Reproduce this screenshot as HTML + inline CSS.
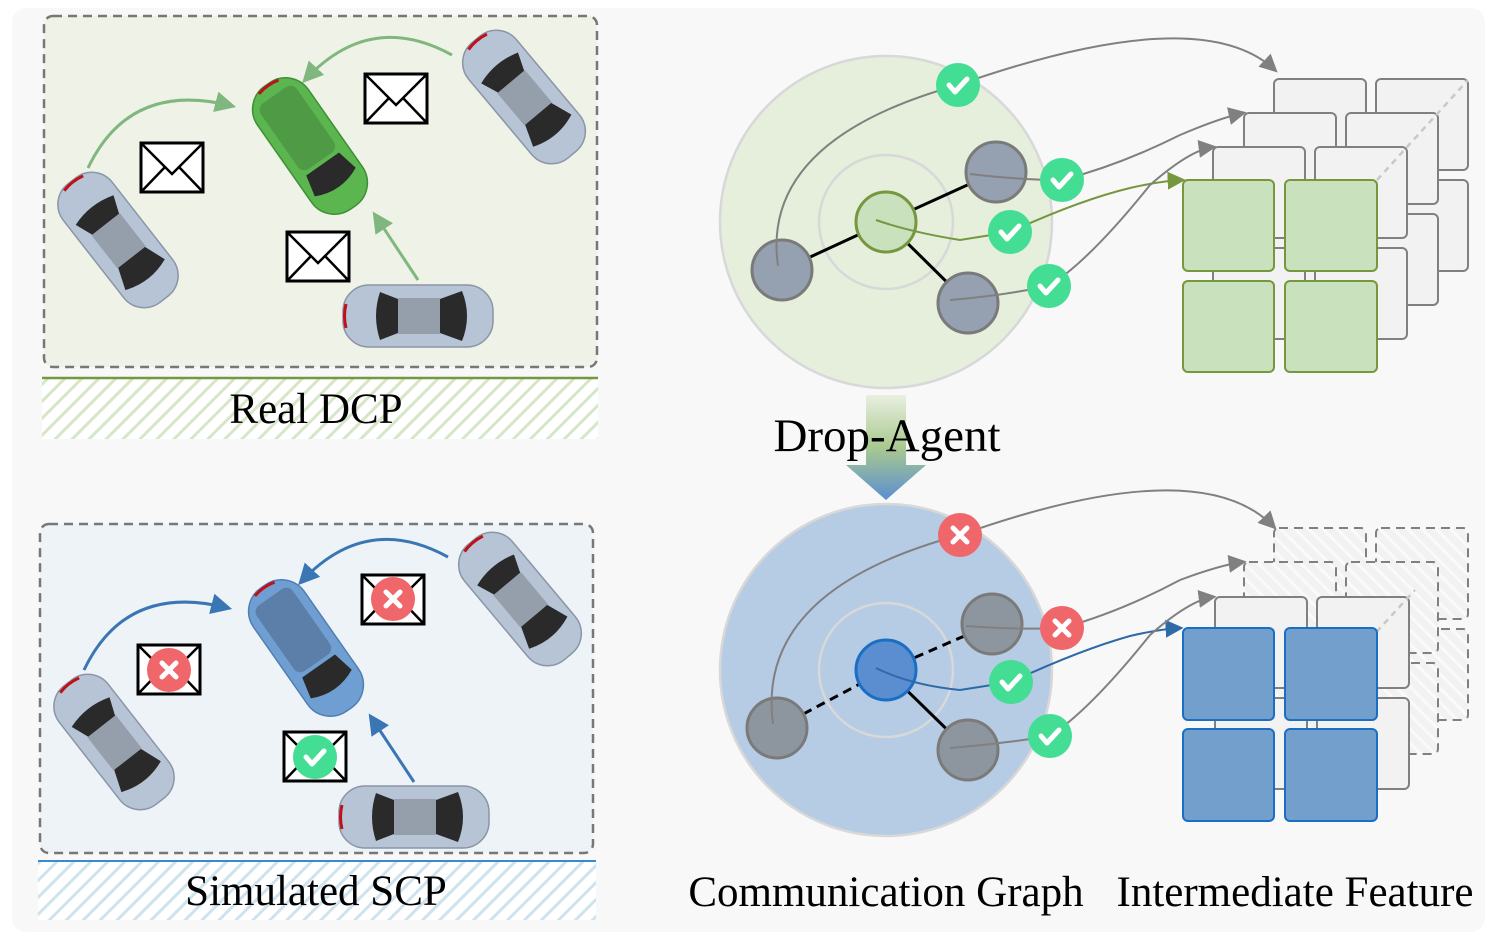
<!DOCTYPE html>
<html><head><meta charset="utf-8"><style>
html,body{margin:0;padding:0;background:#fff}
svg{display:block}
text{font-family:"Liberation Serif",serif;fill:#000}
</style></head><body>
<svg width="1494" height="941" viewBox="0 0 1494 941" xmlns="http://www.w3.org/2000/svg">
<defs>
<pattern id="hg" width="12" height="12" patternUnits="userSpaceOnUse" patternTransform="rotate(45)">
<rect width="12" height="12" fill="#fff"/><rect width="3" height="12" fill="#d6e6c8"/></pattern>
<pattern id="hb" width="12" height="12" patternUnits="userSpaceOnUse" patternTransform="rotate(45)">
<rect width="12" height="12" fill="#fff"/><rect width="3" height="12" fill="#cfe3ee"/></pattern>
<pattern id="hw" width="10" height="10" patternUnits="userSpaceOnUse" patternTransform="rotate(-45)">
<rect width="10" height="10" fill="#f2f2f2"/><rect width="3" height="10" fill="#fafafa"/></pattern>
<linearGradient id="ag" x1="0" y1="0" x2="0" y2="1"><stop offset="0" stop-color="#e8efe0"/><stop offset="0.5" stop-color="#a9c98f"/><stop offset="1" stop-color="#5b8ed0"/></linearGradient>
<marker id="mg" viewBox="0 0 10 10" refX="8" refY="5" markerWidth="7" markerHeight="7" orient="auto"><path d="M0,0L10,5L0,10z" fill="#7fb77e"/></marker>
<marker id="mb" viewBox="0 0 10 10" refX="8" refY="5" markerWidth="7" markerHeight="7" orient="auto"><path d="M0,0L10,5L0,10z" fill="#3a76b4"/></marker>
<marker id="mgr" viewBox="0 0 10 10" refX="8" refY="5" markerWidth="9" markerHeight="9" orient="auto"><path d="M0,0L10,5L0,10z" fill="#808080"/></marker>
<marker id="mol" viewBox="0 0 10 10" refX="8" refY="5" markerWidth="9" markerHeight="9" orient="auto"><path d="M0,0L10,5L0,10z" fill="#76973e"/></marker>
<marker id="mbl" viewBox="0 0 10 10" refX="8" refY="5" markerWidth="9" markerHeight="9" orient="auto"><path d="M0,0L10,5L0,10z" fill="#2f6aa8"/></marker>
<g id="car">
<rect x="-75" y="-31" width="150" height="62" rx="26" fill="#b7c4d6" stroke="#8a95a5" stroke-width="1.5"/>
<path d="M-38,-24 L-20,-17 L-20,17 L-38,24 Q-46,0 -38,-24z" fill="#2a2a2a"/>
<path d="M22,-17 L44,-25 Q54,0 44,25 L22,17z" fill="#2a2a2a"/>
<rect x="-20" y="-18" width="42" height="36" fill="#959fab"/>
<path d="M-72,-12 Q-75,0 -72,12" stroke="#c0101a" stroke-width="3" fill="none"/>
</g>
<g id="gcar">
<rect x="-75" y="-31" width="150" height="62" rx="28" fill="#5bb64f" stroke="#3f8f35" stroke-width="1.5"/>
<rect x="-62" y="-22" width="80" height="44" rx="8" fill="#4e9a45"/>
<path d="M22,-20 L44,-25 Q56,0 44,25 L22,20z" fill="#2a2a2a"/>
<path d="M-72,-12 Q-75,0 -72,12" stroke="#c0101a" stroke-width="3" fill="none"/>
</g>
<g id="bcar">
<rect x="-75" y="-31" width="150" height="62" rx="28" fill="#6f9ed2" stroke="#4f7fb4" stroke-width="1.5"/>
<rect x="-62" y="-22" width="80" height="44" rx="8" fill="#5b7fa8"/>
<path d="M22,-20 L44,-25 Q56,0 44,25 L22,20z" fill="#2a2a2a"/>
<path d="M-72,-12 Q-75,0 -72,12" stroke="#c0101a" stroke-width="3" fill="none"/>
</g>
<g id="env"><rect x="0" y="0" width="62" height="49" fill="#fff" stroke="#000" stroke-width="3"/><path d="M0,0L31,31L62,0M0,49L24,24M62,49L38,24" stroke="#000" stroke-width="2.5" fill="none"/></g>
<g id="ok"><circle r="22" fill="#43dd94"/><path d="M-9,0L-3,7L9,-6" stroke="#fff" stroke-width="5" fill="none" stroke-linecap="round" stroke-linejoin="round"/></g>
<g id="no"><circle r="22" fill="#f0676b"/><path d="M-7,-7L7,7M7,-7L-7,7" stroke="#fff" stroke-width="5" stroke-linecap="round"/></g>
</defs>

<rect x="12" y="8" width="1473" height="924" rx="14" fill="#f8f8f8"/>

<rect x="44" y="16" width="553" height="351" rx="9" fill="#eef2e7" stroke="#777" stroke-width="2.5" stroke-dasharray="9,6"/>
<rect x="42" y="379" width="556" height="60" fill="url(#hg)"/>
<line x1="42" y1="378" x2="598" y2="378" stroke="#76973e" stroke-width="2.5"/>
<text x="316" y="423" font-size="43" text-anchor="middle">Real DCP</text>
<path d="M88,168 Q130,80 232,106" stroke="#7fb77e" stroke-width="3" fill="none" marker-end="url(#mg)"/>
<path d="M452,55 Q370,10 305,80" stroke="#7fb77e" stroke-width="3" fill="none" marker-end="url(#mg)"/>
<path d="M418,280 L375,215" stroke="#7fb77e" stroke-width="3" fill="none" marker-end="url(#mg)"/>
<use href="#car" transform="translate(118,240) rotate(52)"/>
<use href="#gcar" transform="translate(310,146) rotate(55)"/>
<use href="#car" transform="translate(524,97) rotate(50)"/>
<use href="#car" transform="translate(418,316)"/>
<use href="#env" x="141" y="143"/>
<use href="#env" x="365" y="74"/>
<use href="#env" x="287" y="232"/>

<rect x="40" y="524" width="553" height="329" rx="9" fill="#eef3f8" stroke="#777" stroke-width="2.5" stroke-dasharray="9,6"/>
<rect x="38" y="862" width="558" height="58" fill="url(#hb)"/>
<line x1="38" y1="861" x2="596" y2="861" stroke="#3a8ad0" stroke-width="2"/>
<text x="316" y="905" font-size="43" text-anchor="middle">Simulated SCP</text>
<path d="M84,670 Q126,582 228,608" stroke="#3a76b4" stroke-width="3" fill="none" marker-end="url(#mb)"/>
<path d="M448,557 Q366,512 301,582" stroke="#3a76b4" stroke-width="3" fill="none" marker-end="url(#mb)"/>
<path d="M414,782 L371,717" stroke="#3a76b4" stroke-width="3" fill="none" marker-end="url(#mb)"/>
<use href="#car" transform="translate(114,742) rotate(52)"/>
<use href="#bcar" transform="translate(306,648) rotate(55)"/>
<use href="#car" transform="translate(520,599) rotate(50)"/>
<use href="#car" transform="translate(414,817)"/>
<use href="#env" x="138" y="645"/><use href="#no" transform="translate(169,670)"/>
<use href="#env" x="362" y="575"/><use href="#no" transform="translate(393,599)"/>
<use href="#env" x="284" y="732"/><use href="#ok" transform="translate(315,757)"/>

<path d="M866,395 L906,395 L906,465 L926,465 L886,500 L846,465 L866,465z" fill="url(#ag)"/>
<text x="887" y="451" font-size="47" text-anchor="middle">Drop-Agent</text>

<circle cx="886" cy="222" r="166" fill="#e5efdc" stroke="#d8d8d8" stroke-width="2.5"/>
<circle cx="886" cy="222" r="67" fill="none" stroke="#d8d8d8" stroke-width="2.5"/>
<line x1="782" y1="270" x2="886" y2="222" stroke="#000" stroke-width="3"/>
<line x1="996" y1="172" x2="886" y2="222" stroke="#000" stroke-width="3"/>
<line x1="968" y1="303" x2="886" y2="222" stroke="#000" stroke-width="3"/>
<circle cx="782" cy="270" r="30" fill="#95a1b0" stroke="#7a7a7a" stroke-width="3"/>
<circle cx="996" cy="172" r="30" fill="#95a1b0" stroke="#7a7a7a" stroke-width="3"/>
<circle cx="968" cy="303" r="30" fill="#95a1b0" stroke="#7a7a7a" stroke-width="3"/>
<circle cx="886" cy="222" r="30" fill="#c9e1bd" stroke="#76973e" stroke-width="3"/>
<path d="M778,266 Q760,140 958,85 Q1200,0 1275,70" stroke="#808080" stroke-width="2" fill="none" marker-end="url(#mgr)"/>
<path d="M970,174 Q1020,180 1062,180 Q1120,165 1180,135 Q1220,118 1243,113" stroke="#808080" stroke-width="2" fill="none" marker-end="url(#mgr)"/>
<path d="M876,220 Q910,232 960,240 L1010,232 Q1080,200 1130,188 Q1160,181 1182,180" stroke="#76973e" stroke-width="2" fill="none" marker-end="url(#mol)"/>
<path d="M950,300 Q1000,296 1049,286 Q1090,260 1150,185 Q1190,150 1213,147" stroke="#808080" stroke-width="2" fill="none" marker-end="url(#mgr)"/>
<use href="#ok" transform="translate(958,85)"/>
<use href="#ok" transform="translate(1062,180)"/>
<use href="#ok" transform="translate(1010,232)"/>
<use href="#ok" transform="translate(1049,286)"/>

<g stroke="#808080" stroke-width="2" fill="#f2f2f2">
<rect x="1274" y="79" width="92" height="91" rx="5"/><rect x="1376" y="79" width="92" height="91" rx="5"/>
<rect x="1274" y="180" width="92" height="91" rx="5"/><rect x="1376" y="180" width="92" height="91" rx="5"/>
<rect x="1244" y="113" width="92" height="91" rx="5"/><rect x="1346" y="113" width="92" height="91" rx="5"/>
<rect x="1244" y="214" width="92" height="91" rx="5"/><rect x="1346" y="214" width="92" height="91" rx="5"/>
<rect x="1213" y="147" width="92" height="91" rx="5"/><rect x="1315" y="147" width="92" height="91" rx="5"/>
<rect x="1213" y="248" width="92" height="91" rx="5"/><rect x="1315" y="248" width="92" height="91" rx="5"/>
</g>
<line x1="1377" y1="180" x2="1468" y2="80" stroke="#c8c8c8" stroke-width="2.5" stroke-dasharray="6,5"/>
<g stroke="#76973e" stroke-width="2" fill="#c9e1bd">
<rect x="1183" y="180" width="91" height="91" rx="5"/><rect x="1285" y="180" width="92" height="91" rx="5"/>
<rect x="1183" y="281" width="91" height="91" rx="5"/><rect x="1285" y="281" width="92" height="91" rx="5"/>
</g>

<circle cx="886" cy="670" r="166" fill="#b6cbe4" stroke="#d8d8d8" stroke-width="2.5"/>
<circle cx="886" cy="670" r="67" fill="none" stroke="#d8d8d8" stroke-width="2.5"/>
<line x1="777" y1="728" x2="886" y2="670" stroke="#000" stroke-width="3" stroke-dasharray="9,6"/>
<line x1="992" y1="624" x2="886" y2="670" stroke="#000" stroke-width="3" stroke-dasharray="9,6"/>
<line x1="968" y1="750" x2="886" y2="670" stroke="#000" stroke-width="3"/>
<circle cx="777" cy="728" r="30" fill="#8d969f" stroke="#7a7a7a" stroke-width="3"/>
<circle cx="992" cy="624" r="30" fill="#8d969f" stroke="#7a7a7a" stroke-width="3"/>
<circle cx="968" cy="750" r="30" fill="#8d969f" stroke="#7a7a7a" stroke-width="3"/>
<circle cx="886" cy="670" r="30" fill="#5b8ed0" stroke="#1a6fc4" stroke-width="3"/>
<path d="M773,724 Q755,590 960,535 Q1200,450 1274,527" stroke="#808080" stroke-width="2" fill="none" marker-end="url(#mgr)"/>
<path d="M966,626 Q1020,630 1062,628 Q1120,612 1180,580 Q1220,565 1243,562" stroke="#808080" stroke-width="2" fill="none" marker-end="url(#mgr)"/>
<path d="M876,668 Q910,685 960,690 L1011,682 Q1080,650 1130,636 Q1160,629 1180,628" stroke="#2f6aa8" stroke-width="2" fill="none" marker-end="url(#mbl)"/>
<path d="M950,748 Q1000,744 1050,736 Q1090,710 1150,635 Q1190,600 1213,597" stroke="#808080" stroke-width="2" fill="none" marker-end="url(#mgr)"/>
<use href="#no" transform="translate(960,535)"/>
<use href="#no" transform="translate(1062,628)"/>
<use href="#ok" transform="translate(1011,682)"/>
<use href="#ok" transform="translate(1050,736)"/>

<g stroke="#808080" stroke-width="2" fill="url(#hw)" stroke-dasharray="9,6">
<rect x="1274" y="528" width="92" height="91" rx="5"/><rect x="1376" y="528" width="92" height="91" rx="5"/>
<rect x="1274" y="629" width="92" height="91" rx="5"/><rect x="1376" y="629" width="92" height="91" rx="5"/>
<rect x="1244" y="562" width="92" height="91" rx="5"/><rect x="1346" y="562" width="92" height="91" rx="5"/>
<rect x="1244" y="663" width="92" height="91" rx="5"/><rect x="1346" y="663" width="92" height="91" rx="5"/>
</g>
<g stroke="#808080" stroke-width="2" fill="#f2f2f2">
<rect x="1215" y="597" width="92" height="91" rx="5"/><rect x="1317" y="597" width="92" height="91" rx="5"/>
<rect x="1215" y="698" width="92" height="91" rx="5"/><rect x="1317" y="698" width="92" height="91" rx="5"/>
</g>
<line x1="1369" y1="640" x2="1415" y2="590" stroke="#c8c8c8" stroke-width="2.5" stroke-dasharray="6,5"/>
<g stroke="#1a6fc4" stroke-width="2" fill="#729fcc">
<rect x="1183" y="628" width="91" height="92" rx="5"/><rect x="1285" y="628" width="92" height="92" rx="5"/>
<rect x="1183" y="729" width="91" height="92" rx="5"/><rect x="1285" y="729" width="92" height="92" rx="5"/>
</g>

<text x="886" y="906" font-size="43" text-anchor="middle">Communication Graph</text>
<text x="1295" y="906" font-size="43" text-anchor="middle">Intermediate Feature</text>
</svg>
</body></html>
